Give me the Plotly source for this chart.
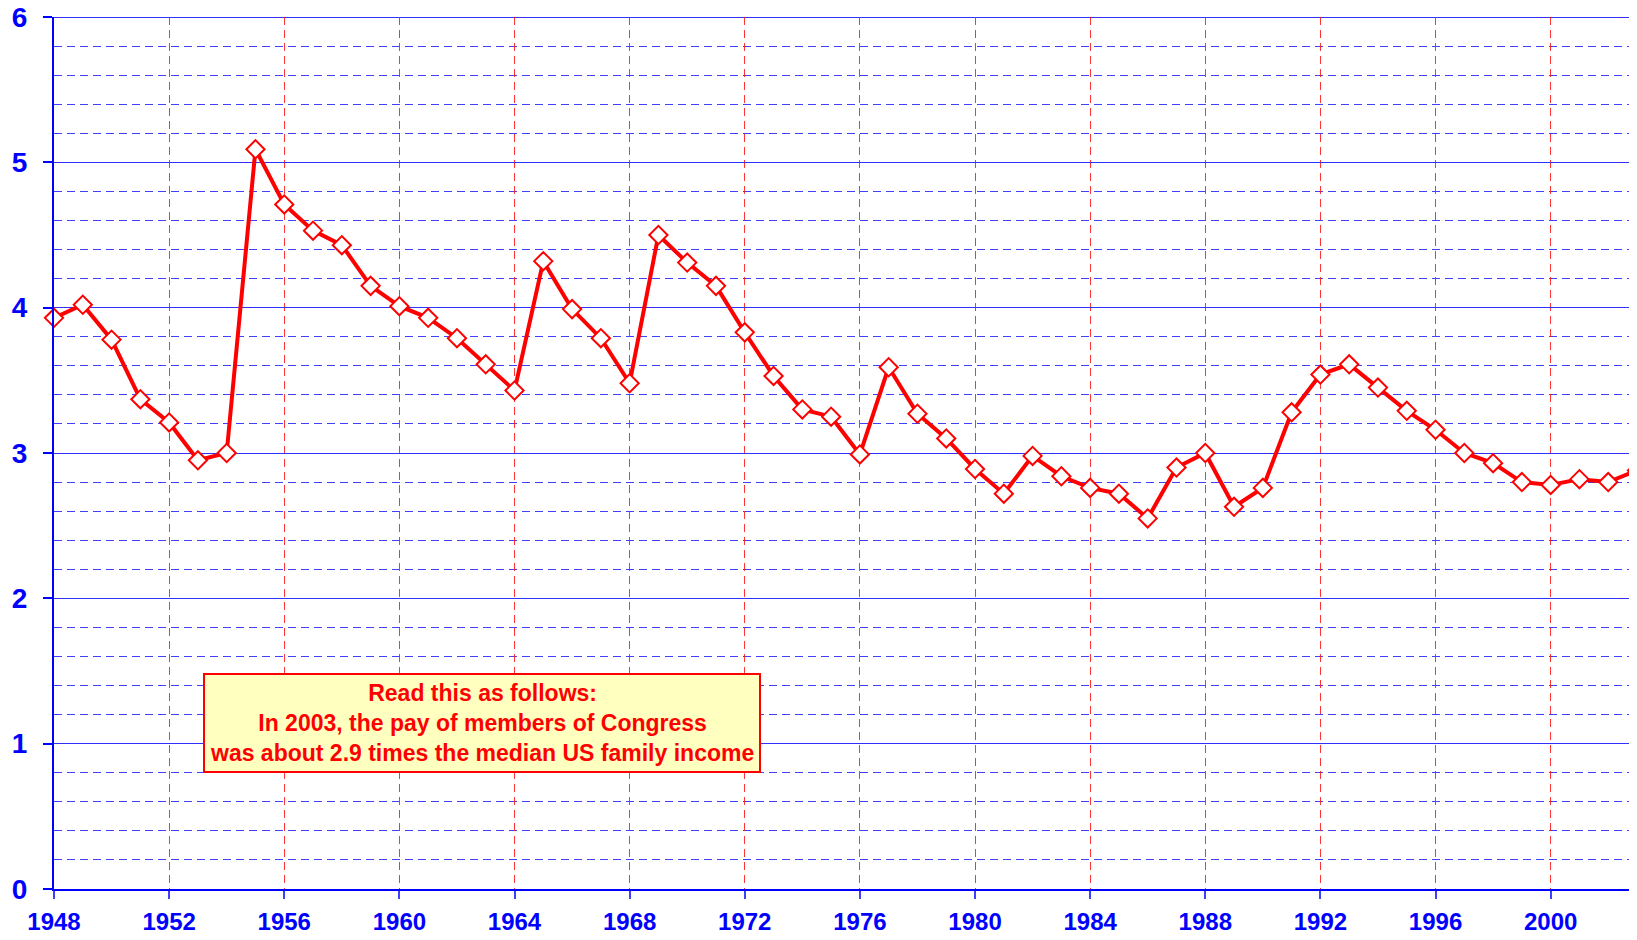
import plotly.graph_objects as go

years = list(range(1948, 2004))
ratio = [3.93, 4.02, 3.78, 3.37, 3.21, 2.95, 3.00, 5.09, 4.71, 4.53,
         4.43, 4.15, 4.01, 3.93, 3.79, 3.61, 3.43, 4.32, 3.99, 3.79,
         3.48, 4.50, 4.31, 4.15, 3.83, 3.53, 3.30, 3.25, 2.99, 3.59,
         3.27, 3.10, 2.89, 2.72, 2.98, 2.84, 2.76, 2.72, 2.55, 2.90,
         3.00, 2.63, 2.76, 3.28, 3.54, 3.61, 3.45, 3.29, 3.16, 3.00,
         2.93, 2.80, 2.78, 2.82, 2.80, 2.88]
x_ticks = list(range(1948, 2004, 4))
y_ticks = [0, 1, 2, 3, 4, 5, 6]
y_max = 6
note_lines = ["Read this as follows:",
              "In 2003, the pay of members of Congress",
              "was about 2.9 times the median US family income"]

fig = go.Figure()
fig.add_trace(go.Scatter(
    x=years, y=ratio, mode="lines+markers",
    line=dict(color="#FF0000", width=4),
    marker=dict(symbol="diamond", size=14, color="white",
                line=dict(color="#FF0000", width=2)),
    cliponaxis=False, showlegend=False, hoverinfo="x+y"))

fig.update_layout(
    width=1629, height=932,
    margin=dict(l=46, r=0, t=9, b=51, autoexpand=False),
    paper_bgcolor="white", plot_bgcolor="white",
    font=dict(family="Liberation Sans, Arial, sans-serif"),
)

fig.update_xaxes(
    range=[1948, 2003], tickvals=x_ticks, ticktext=[str(v) for v in x_ticks],
    showgrid=True, gridcolor="rgba(255,30,30,0.9)", gridwidth=1, griddash="8px,5px",
    showline=True, linecolor="#0000FF", linewidth=2,
    ticks="outside", ticklen=8, tickcolor="#4040FF", tickwidth=2,
    tickfont=dict(size=24, color="#0000FF", family="Liberation Sans", weight="bold"),
    ticklabelstandoff=2, automargin=False,
    zeroline=False,
)
fig.update_yaxes(
    range=[0, y_max], tickvals=y_ticks,
    showgrid=True, gridcolor="#3030FF", gridwidth=1,
    minor=dict(dtick=0.2, showgrid=True, gridcolor="rgba(30,30,255,0.85)",
               griddash="8px,5px", gridwidth=1),
    showline=True, linecolor="#0000FF", linewidth=2,
    ticks="outside", ticklen=9, tickcolor="#0000FF", tickwidth=2,
    tickfont=dict(size=28, color="#0000FF", family="Liberation Sans", weight="bold"),
    ticklabelstandoff=10, ticklabeloverflow="allow", automargin=False,
    zeroline=False,
)

# solid top gridline at the upper end of the y range
fig.add_shape(type="line", xref="paper", yref="y", x0=0, x1=1, y0=y_max, y1=y_max,
              line=dict(color="#3030FF", width=2), layer="below")

fig.add_annotation(
    x=1962.86, y=1.14, xref="x", yref="y",
    text="<br>".join(note_lines), showarrow=False,
    font=dict(size=23, color="#FF0000", family="Liberation Sans", weight="bold"),
    align="center", bgcolor="#FFFFC0", bordercolor="#FF0000", borderwidth=2,
    borderpad=5,
)

fig.write_html("out.html")
